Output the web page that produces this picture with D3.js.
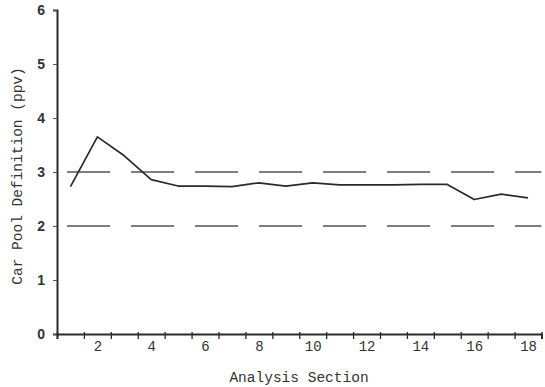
<!DOCTYPE html>
<html><head><meta charset="utf-8">
<script src="https://cdn.jsdelivr.net/npm/d3@7"></script>
<style>body{margin:0;background:#fff}svg{display:block}</style>
</head><body>
<svg id="c" width="545" height="387"></svg>
<script>
const sections = [1,2,3,4,5,6,7,8,9,10,11,12,13,14,15,16,17,18];
const carPool = [2.73,3.65,3.3,2.86,2.74,2.74,2.73,2.8,2.74,2.8,2.76,2.76,2.76,2.77,2.77,2.49,2.59,2.52];
const refLines = [3,2];
const xTickLabels = [2,4,6,8,10,12,14,16,18];
const xBoundaries = d3.range(0.5,18.6,1);
const yTicks = [0,1,2,3,4,5,6];

const svg = d3.select("#c");
const x = d3.scaleLinear().domain([0.5,18.5]).range([57,541.5]);
const y = d3.scaleLinear().domain([0,6]).range([334,10]);
const ink = "#2a2a2a";
const mono = "'Liberation Mono','DejaVu Sans Mono',monospace";

// reference dashed lines
svg.selectAll("line.ref").data(refLines).enter().append("line")
  .attr("x1", 67).attr("x2", x(18.5))
  .attr("y1", d=>y(d)).attr("y2", d=>y(d))
  .attr("stroke","#555").attr("stroke-width",1.6)
  .attr("stroke-dasharray","43,21");

// data line
svg.append("path").datum(sections.map((s,i)=>[s,carPool[i]]))
  .attr("fill","none").attr("stroke",ink).attr("stroke-width",1.7)
  .attr("stroke-linejoin","round")
  .attr("d", d3.line().x(d=>x(d[0])).y(d=>y(d[1])));

// y axis
const yAx = svg.append("g").attr("transform","translate(57,0)")
  .call(d3.axisLeft(y).tickValues(yTicks).tickSize(4).tickPadding(8).tickFormat(d3.format("d")));
yAx.select(".domain").attr("stroke",ink).attr("stroke-width",2);
yAx.selectAll(".tick line").attr("stroke","#555");
yAx.selectAll("text").attr("font-family","'Liberation Sans Narrow','Liberation Sans',sans-serif")
  .attr("font-size",14).attr("fill","#333").attr("font-weight","bold");

// x axis boundary ticks
const xAx = svg.append("g").attr("transform","translate(0,334)")
  .call(d3.axisBottom(x).tickValues(xBoundaries).tickSize(5).tickFormat(""));
xAx.select(".domain").attr("stroke",ink).attr("stroke-width",2);
xAx.selectAll(".tick line").attr("stroke",ink).attr("stroke-width",1.3).attr("y1",-2);

// x tick labels at even sections
const xLab = svg.append("g").attr("transform","translate(0,334)")
  .call(d3.axisBottom(x).tickValues(xTickLabels).tickSize(0).tickPadding(7).tickFormat(d3.format("d")));
xLab.select(".domain").remove();
xLab.selectAll("text").attr("font-family",mono).attr("font-size",14).attr("fill","#333");

// axis titles
svg.append("text").attr("x",299).attr("y",382).attr("text-anchor","middle")
  .attr("font-family",mono).attr("font-size",14.5).attr("fill","#333")
  .text("Analysis Section");
svg.append("text").attr("transform","translate(22,176) rotate(-90)").attr("text-anchor","middle")
  .attr("font-family",mono).attr("font-size",14.5).attr("fill","#333")
  .text("Car Pool Definition (ppv)");
</script>
</body></html>
